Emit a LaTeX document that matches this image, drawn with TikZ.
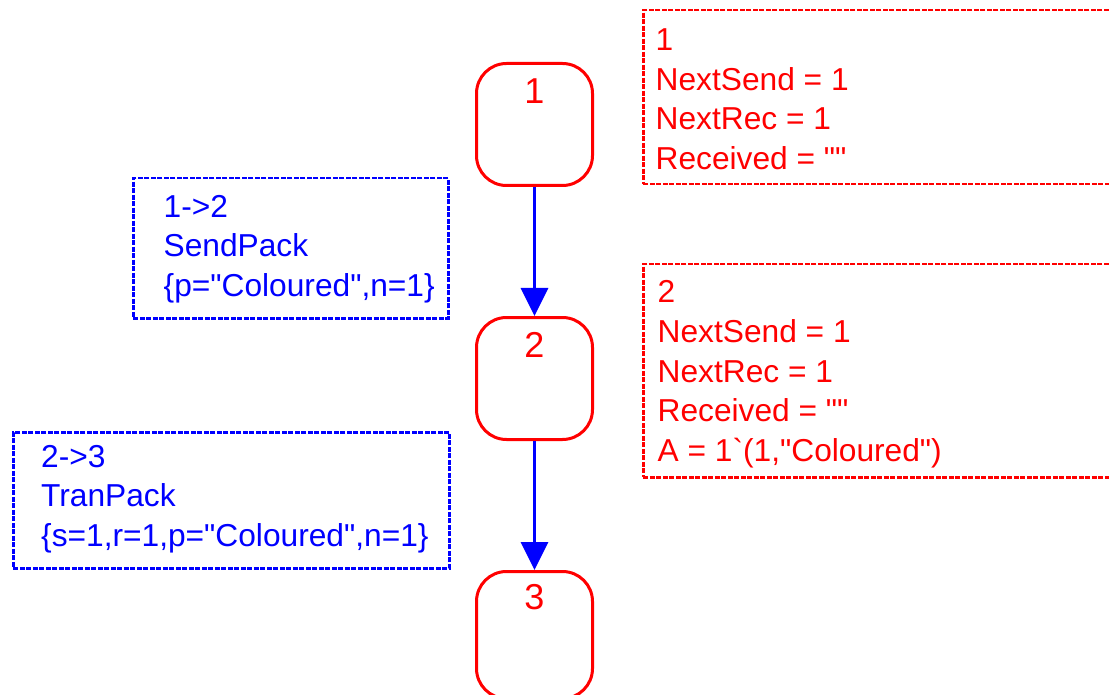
\documentclass[tikz,border=0pt]{standalone}
\usepackage{fontspec}
\setmainfont{Liberation Sans}[Ligatures=TeXOff]
\usetikzlibrary{arrows.meta,calc}
\begin{document}
\begin{tikzpicture}[x=1pt,y=-1pt,
  state/.style={draw=red, line width=3pt, rounded corners=30pt, minimum width=116pt, minimum height=122pt, inner sep=0pt},
  statelbl/.style={text=red, font=\fontsize{36}{40}\selectfont, inner sep=0pt, anchor=base},
  redbox/.style={draw=red, line width=2.5pt, dash pattern=on 5pt off 1.5pt, anchor=north west, inner sep=0pt},
  bluebox/.style={draw=blue, line width=2.5pt, dash pattern=on 5pt off 1.5pt, anchor=north west, inner sep=0pt},
  redtxt/.style={text=red, font=\fontsize{31.7}{39.5}\selectfont, align=left, anchor=north west, inner sep=0pt},
  bluetxt/.style={text=blue, font=\fontsize{31.7}{39.5}\selectfont, align=left, anchor=north west, inner sep=0pt},
  trans/.style={draw=blue, line width=3pt, -{Triangle[width=27pt,length=28pt]}}
]
\useasboundingbox (0,0) rectangle (1109,695);

% states
\node[state] (s1) at (534.5,124.5) {};
\node[state] (s2) at (534.5,378.5) {};
\node[state, minimum height=127pt] (s3) at (534.5,635) {};
\node[statelbl] (l1) at ($(s1.north)+(0,41.5)$) {1};
\node[statelbl] (l2) at ($(s2.north)+(0,41)$) {2};
\node[statelbl] (l3) at ($(s3.north)+(0,39.5)$) {3};

% transitions
\draw[trans] (s1) -- (s2);
\draw[trans] (s2) -- (s3);

% state info boxes
\node[redbox, minimum width=500pt, minimum height=174pt] (r1) at (642,9) {};
\node[redtxt] (r1t) at (655.5,28.5) {1\\NextSend = 1\\NextRec = 1\\Received = ""};
\node[redbox, minimum width=500pt, minimum height=213pt] (r2) at (642,263) {};
\node[redtxt, font=\fontsize{31.7}{39.6}\selectfont] (r2t) at (657.5,280.5) {2\\NextSend = 1\\NextRec = 1\\Received = ""\\A = 1`(1,"Coloured")};

% transition info boxes
\node[bluebox, minimum width=315pt, minimum height=140pt] (b1) at (132,177) {};
\node[bluetxt] (b1t) at (163.5,194.8) {1->2\\SendPack\\\{p="Coloured",n=1\}};
\node[bluebox, minimum width=436pt, minimum height=136pt] (b2) at (12,431) {};
\node[bluetxt] (b2t) at (41,444.8) {2->3\\TranPack\\\{s=1,r=1,p="Coloured",n=1\}};
\end{tikzpicture}
\end{document}
